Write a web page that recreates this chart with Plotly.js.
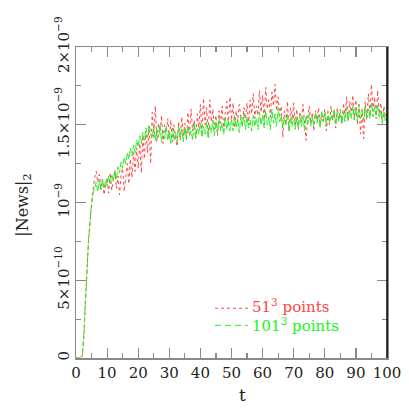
<!DOCTYPE html>
<html>
<head>
<meta charset="utf-8">
<script src="https://cdn.plot.ly/plotly-3.0.1.min.js"></script>
<style>html,body{margin:0;padding:0;background:#fff;}#chart{width:409px;height:409px;}</style>
</head>
<body>
<div id="chart"></div>
<script>
// time step of the sampled series (t = 0 ... 100)
const tStep = 0.5;

// |News|_2 for 101^3 points, in units of 1e-10
const news101 = [
  0, 0, 0, 0.05, 0.2, 1.5, 3.8, 5.8, 7.5, 8.8,
  10.0, 10.6, 10.9, 11.3, 10.7, 11.4, 10.8, 11.5, 10.9, 11.4,
  11.1, 11.7, 11.2, 11.8, 11.4, 12.0, 11.5, 12.3, 11.9, 12.6,
  12.2, 12.9, 12.5, 13.2, 12.8, 13.5, 13.0, 13.7, 13.2, 14.0,
  13.6, 14.3, 13.8, 14.5, 14.0, 14.8, 14.2, 15.0, 14.4, 14.1,
  14.9, 14.0, 14.7, 14.2, 15.0, 13.9, 14.6, 14.1, 14.9, 14.0,
  14.6, 13.8, 14.8, 14.0, 14.5, 13.9, 14.9, 14.2, 14.7, 13.9,
  14.8, 14.1, 14.9, 14.3, 14.6, 14.0, 15.1, 14.2, 14.8, 14.4,
  15.1, 14.2, 14.9, 14.4, 15.2, 14.1, 15.0, 14.5, 15.3, 14.3,
  15.2, 14.5, 15.4, 14.6, 15.1, 14.4, 15.5, 14.7, 15.3, 14.6,
  15.4, 14.6, 15.6, 14.8, 15.3, 14.5, 15.5, 14.9, 15.7, 14.7,
  15.5, 14.8, 15.3, 14.6, 15.6, 14.9, 15.4, 14.7, 15.8, 15.0,
  15.6, 14.8, 15.9, 15.0, 15.5, 14.7, 16.0, 15.1, 15.7, 14.9,
  16.1, 15.2, 15.6, 14.8, 15.4, 15.0, 15.7, 14.6, 15.5, 14.9,
  15.6, 14.7, 15.4, 14.8, 15.7, 14.9, 15.5, 14.6, 15.6, 15.0,
  15.7, 14.9, 15.5, 15.0, 15.8, 15.1, 15.6, 14.8, 15.9, 15.2,
  15.7, 15.0, 15.9, 15.1, 15.6, 15.3, 16.0, 15.0, 15.8, 15.2,
  16.0, 15.1, 15.8, 15.2, 16.1, 15.3, 15.9, 15.4, 16.2, 15.3,
  16.0, 15.2, 16.3, 15.4, 15.9, 15.3, 16.2, 15.5, 16.0, 15.4,
  16.4, 15.5, 16.1, 15.6, 16.3, 15.4, 15.9, 15.1, 15.8, 15.2,
  15.6
];

// |News|_2 for 51^3 points, in units of 1e-10
const news51 = [
  0, 0, 0, 0, 0.1, 1.2, 3.5, 5.6, 7.4, 8.7,
  9.9, 10.8, 11.6, 12.0, 11.3, 11.8, 10.9, 11.5, 10.5, 11.2,
  11.6, 10.6, 11.9, 10.8, 11.4, 12.1, 10.9, 11.7, 10.5, 11.8,
  12.2, 10.7, 11.6, 12.5, 11.2, 12.8, 11.6, 13.2, 12.0, 13.5,
  12.2, 13.8, 11.9, 14.3, 12.8, 14.6, 13.2, 14.9, 12.5, 15.8,
  14.2, 16.2, 13.9, 15.1, 14.4, 15.6, 13.8, 15.0, 14.5, 15.4,
  14.1, 15.3, 13.9, 15.0, 14.2, 13.6, 15.2, 14.0, 15.5, 14.3,
  15.1, 14.0, 15.8, 14.4, 16.0, 14.6, 15.3, 14.1, 15.7, 14.8,
  16.3, 14.5, 16.7, 15.0, 16.1, 14.4, 16.6, 15.2, 16.0, 14.7,
  15.6, 14.3, 15.9, 15.1, 16.2, 14.6, 15.8, 16.5, 15.0, 16.8,
  15.3, 16.4, 14.8, 15.9, 15.2, 16.3, 15.5, 14.9, 16.1, 15.4,
  16.4, 15.0, 16.6, 15.7, 17.0, 15.4, 16.2, 15.6, 17.2, 15.8,
  16.9, 15.3, 17.4, 16.0, 16.6, 15.5, 17.1, 16.2, 17.6, 15.9,
  16.8, 15.6, 16.2, 14.2, 15.9, 15.0, 16.5, 14.6, 16.1, 15.3,
  16.4, 15.0, 16.0, 14.7, 15.8, 15.2, 16.3, 14.8, 14.0, 15.5,
  16.2, 15.1, 15.8, 14.6, 15.9, 15.3, 16.1, 14.9, 15.7, 15.2,
  16.0, 14.6, 15.6, 15.0, 16.2, 15.3, 15.9, 14.8, 16.1, 15.4,
  15.8, 15.1, 16.4, 15.5, 16.8, 15.2, 16.5, 15.8, 16.9, 15.4,
  16.6, 15.0, 16.3, 14.4, 16.0, 14.1, 16.5, 15.3, 17.0, 15.6,
  17.6, 15.9, 16.8, 15.4, 17.2, 15.7, 16.4, 15.1, 16.2, 15.5,
  15.7
];

const unit = 1e-10;
const yTickVals = [0, 5e-10, 1e-9, 1.5e-9, 2e-9];
const yTickText = ['0', '5×10<sup>−10</sup>', '10<sup>−9</sup>', '1.5×10<sup>−9</sup>', '2×10<sup>−9</sup>'];
const seriesNames = ['51<sup>3</sup> points', '101<sup>3</sup> points'];

const tVals = news101.map((_, i) => i * tStep);
const RED = '#ff4545';
const GREEN = '#22f022';
const FONT = 'DejaVu Serif';

const traces = [
  {x: tVals, y: news51.map(v => v * unit), mode: 'lines', name: seriesNames[0],
   line: {color: RED, width: 1, dash: 'dot'}, showlegend: false},
  {x: tVals, y: news101.map(v => v * unit), mode: 'lines', name: seriesNames[1],
   line: {color: GREEN, width: 1, dash: '6px,2px'}, showlegend: false}
];

const axisGray = '#8a8a8a';
const layout = {
  width: 409, height: 409,
  margin: {l: 76, r: 22, t: 47, b: 51},
  paper_bgcolor: '#fff', plot_bgcolor: '#fff',
  showlegend: false,
  font: {family: FONT, color: '#222'},
  xaxis: {
    range: [0, 100], showline: true, linecolor: axisGray, linewidth: 1.5, mirror: 'ticks',
    ticks: 'inside', ticklen: 10, tickcolor: axisGray, tickwidth: 1.2, dtick: 10, tick0: 0,
    minor: {ticks: 'inside', ticklen: 5, dtick: 5, tickcolor: axisGray, tickwidth: 1.2, showgrid: false},
    showgrid: false, zeroline: false,
    tickfont: {family: FONT, size: 15, color: '#222'}
  },
  yaxis: {
    range: [0, 2e-9], showline: true, linecolor: axisGray, linewidth: 1.5, mirror: 'ticks',
    ticks: 'inside', ticklen: 10, tickcolor: axisGray, tickwidth: 1.2,
    tickvals: yTickVals, ticktext: yTickText, tickangle: -90,
    minor: {ticks: 'inside', ticklen: 5, dtick: 2.5e-10, tickcolor: axisGray, tickwidth: 1.2, showgrid: false},
    showgrid: false, zeroline: false,
    tickfont: {family: FONT, size: 15, color: '#222'}
  },
  shapes: [
    {type: 'line', xref: 'paper', yref: 'paper', x0: 1, x1: 1, y0: 0, y1: 1, line: {color: '#000', width: 1.5}},
    {type: 'line', xref: 'paper', yref: 'paper', x0: 0.447, x1: 0.553, y0: 0.160, y1: 0.160, line: {color: RED, width: 1, dash: 'dot'}},
    {type: 'line', xref: 'paper', yref: 'paper', x0: 0.447, x1: 0.553, y0: 0.105, y1: 0.105, line: {color: GREEN, width: 1, dash: '6px,4px'}}
  ],
  annotations: [
    {text: seriesNames[0], xref: 'paper', yref: 'paper', x: 0.563, y: 0.167, xanchor: 'left', yanchor: 'middle',
     showarrow: false, borderpad: 0, font: {family: FONT, size: 15, color: RED}},
    {text: seriesNames[1], xref: 'paper', yref: 'paper', x: 0.563, y: 0.105, xanchor: 'left', yanchor: 'middle',
     showarrow: false, borderpad: 0, font: {family: FONT, size: 15, color: GREEN}},
    {text: 't', xref: 'paper', yref: 'paper', x: 0.536, y: -0.118, xanchor: 'center', yanchor: 'middle',
     showarrow: false, font: {family: FONT, size: 17, color: '#222'}},
    {text: '|News|<sub>2</sub>', xref: 'paper', yref: 'paper', x: -0.17, y: 0.49, xanchor: 'center', yanchor: 'middle',
     textangle: -90, showarrow: false, font: {family: FONT, size: 16, color: '#222'}}
  ]
};

Plotly.newPlot('chart', traces, layout, {staticPlot: true, displayModeBar: false});
</script>
</body>
</html>
